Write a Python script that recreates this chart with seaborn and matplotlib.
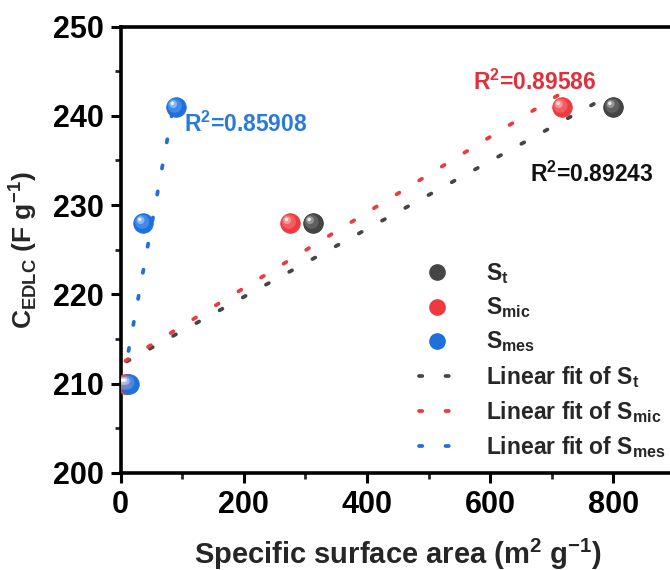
import numpy as np
import pandas as pd
import matplotlib
matplotlib.use("Agg")
import matplotlib.pyplot as plt
import seaborn as sns
from matplotlib.path import Path
from matplotlib.lines import Line2D

# ---- data ----
st_x = [10, 312, 800]
st_y = [210, 228, 241]
smic_x = [8, 275, 716]
smic_y = [210, 228, 241]
smes_x = [13, 37, 90]
smes_y = [210, 228, 241]
series_names = ["S$_\\mathregular{t}$", "S$_\\mathregular{mic}$", "S$_\\mathregular{mes}$"]
r2_labels = ["R$^\\mathregular{2}$=0.89243", "R$^\\mathregular{2}$=0.89586", "R$^\\mathregular{2}$=0.85908"]
x_ticks = [0, 200, 400, 600, 800]
y_ticks = [200, 210, 220, 230, 240, 250]

colors = ["#454545", "#ee3a3f", "#1f6fdc"]
mids = ["#6a6a6a", "#f56a6e", "#4f93ee"]
lights = ["#a8a8a8", "#ffaaaa", "#9cc6fb"]
text_colors = ["#111111", "#e0303c", "#2a7ad8"]

sns.set_theme(style="ticks")
plt.rcParams["font.family"] = ["Liberation Sans", "DejaVu Sans"]
plt.rcParams["font.weight"] = "bold"
plt.rcParams["mathtext.fontset"] = "custom"
plt.rcParams["mathtext.rm"] = "Liberation Sans:bold"
plt.rcParams["mathtext.bf"] = "Liberation Sans:bold"

fig = plt.figure(figsize=(6.7, 5.7), dpi=100)
ax = fig.add_axes([120.5 / 670, 1 - 473 / 570, (675 - 120.5) / 670, (473 - 26.5) / 570])

sets = [(st_x, st_y), (smic_x, smic_y), (smes_x, smes_y)]
DASH = (0, (0.87, 6.2))

# fit lines (seaborn linear regression)
for (xs, ys), c in zip(sets, colors):
    sns.regplot(x=np.array(xs, float), y=np.array(ys, float), ax=ax, scatter=False, ci=None,
                truncate=True,
                line_kws=dict(color=c, lw=2.7, linestyle=DASH,
                              dash_capstyle="round", zorder=2))


def blob(cx, cy, r):
    """circle marker path in final marker units (main marker radius = 0.5)"""
    t = np.linspace(0, 2 * np.pi, 40)
    circ = np.column_stack([2 * cx + 2 * r * np.cos(t), 2 * cy + 2 * r * np.sin(t)])
    verts = np.vstack([circ, [[1, 1], [1, 1], [1, 1]]])
    codes = [Path.MOVETO] + [Path.LINETO] * 38 + [Path.CLOSEPOLY] + \
            [Path.MOVETO, Path.LINETO, Path.CLOSEPOLY]
    return Path(verts, codes)


layers = [(-0.06, 0.06, 0.36, 1), (-0.14, 0.14, 0.2, 2), (-0.18, 0.18, 0.09, 3)]

for (xs, ys), c, mc, lc in zip(sets, colors, mids, lights):
    df = pd.DataFrame({"x": xs, "y": ys})
    sns.scatterplot(data=df, x="x", y="y", ax=ax, s=200, color=c,
                    edgecolor="#2a2a2a" if c == colors[0] else c,
                    linewidth=0.5, zorder=3, legend=False)
    for (cx, cy, r, k), col in zip(layers, [mc, lc, "#ffffff"]):
        sns.scatterplot(data=df, x="x", y="y", ax=ax, s=200, marker=blob(cx, cy, r),
                        color=col, edgecolor="none", linewidth=0,
                        alpha=0.75 if k < 3 else 0.8, zorder=3 + k, legend=False)

ax.set_xlim(0, 900)
ax.set_ylim(200, 250)
ax.set_xticks(x_ticks)
ax.set_yticks(y_ticks)
ax.set_xticks([100, 300, 500, 700], minor=True)
ax.set_yticks([205, 215, 225, 235, 245], minor=True)
ax.tick_params(axis="both", which="major", direction="out", length=7, width=2.2,
               labelsize=22, pad=5, colors="black")
ax.tick_params(axis="both", which="minor", direction="out", length=4, width=2.0)
for lab in ax.get_xticklabels() + ax.get_yticklabels():
    lab.set_fontweight("bold")
for s in ["left", "bottom", "top"]:
    ax.spines[s].set_linewidth(2.6)
    ax.spines[s].set_color("black")
ax.spines["right"].set_visible(False)

ax.set_xlabel("Specific surface area (m$^\\mathregular{2}$ g$^\\mathregular{-1}$)",
              fontsize=21, fontweight="bold", labelpad=12)
ax.set_ylabel("C$_\\mathregular{EDLC}$ (F g$^\\mathregular{-1}$)",
              fontsize=19, fontweight="bold", labelpad=10)

# R^2 annotations
ax.text(664, 233.4, r2_labels[0], color=text_colors[0], fontsize=16.5, fontweight="bold",
        ha="left", va="center")
ax.text(572, 243.8, r2_labels[1], color=text_colors[1], fontsize=16.5, fontweight="bold",
        ha="left", va="center")
ax.text(103, 239.0, r2_labels[2], color=text_colors[2], fontsize=16.5, fontweight="bold",
        ha="left", va="center")

# legend
handles = []
labels = []
for c, n in zip(colors, series_names):
    handles.append(Line2D([], [], marker="o", ls="none", color=c, markersize=11))
    labels.append(n)
for c, n in zip(colors, series_names):
    handles.append(Line2D([], [], color=c, lw=2.7, linestyle=DASH,
                          dash_capstyle="round"))
    labels.append("Linear fit of " + n)
leg = ax.legend(handles, labels, loc="upper left", bbox_to_anchor=(408 / 670, 1 - 250 / 570),
                bbox_transform=fig.transFigure, frameon=False, fontsize=16.5,
                handlelength=1.55, handletextpad=1.35, labelspacing=0.4, borderpad=0)
for txt in leg.get_texts():
    txt.set_fontweight("bold")

fig.savefig("out.png", dpi=100)
